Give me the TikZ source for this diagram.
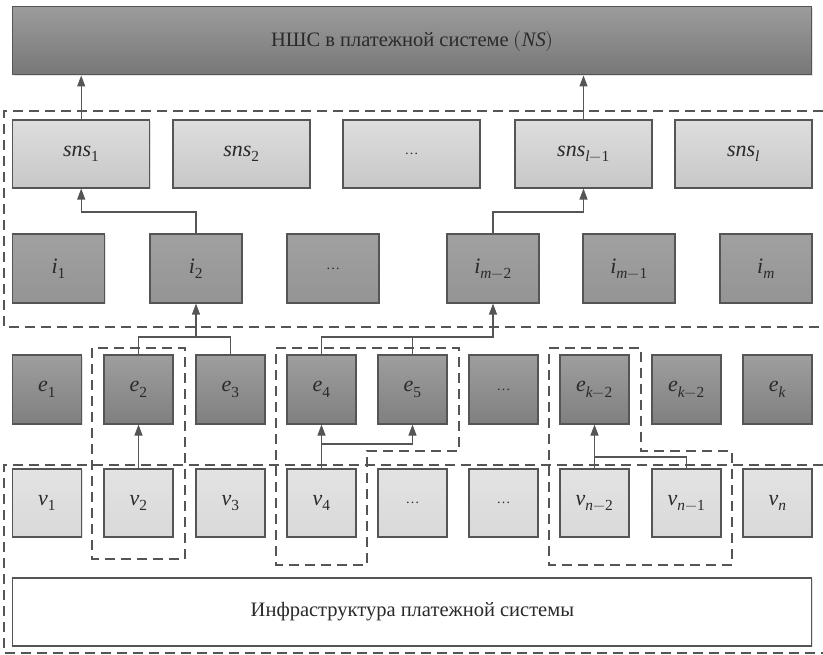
\documentclass[tikz,border=0pt]{standalone}
\usepackage{unicode-math}
\setmainfont{Liberation Serif}
\setmathfont{Latin Modern Math}
\setmathfont{Liberation Serif Italic}[range={it/{Latin,latin}}]
\setmathfont{Liberation Serif}[range={up/num}]
\usetikzlibrary{arrows.meta,shadows,calc}

\definecolor{edge}{HTML}{555555}
\definecolor{ink}{HTML}{2a2a2a}

\tikzset{
  x=1pt, y=1pt,
  box/.style={draw=edge, line width=1.1pt, rectangle, inner sep=0pt,
    text=ink, font=\fontsize{22}{26}\selectfont,
    drop shadow={shadow xshift=1.2pt, shadow yshift=-1.2pt, fill=black!18, opacity=0.6}},
  headbox/.style={box, minimum width=799pt, minimum height=68pt,
    font=\fontsize{20.5}{24}\selectfont,
    top color=gray!78!white, bottom color=gray!88!black!95},
  snsbox/.style={box, minimum width=137pt, minimum height=68pt,
    top color=black!13, bottom color=black!22},
  ibox/.style={box, minimum width=92pt, minimum height=69pt,
    top color=black!37, bottom color=black!42},
  ebox/.style={box, minimum width=69pt, minimum height=69pt,
    top color=black!38, bottom color=black!50},
  vbox/.style={box, minimum width=69pt, minimum height=68pt,
    top color=black!11, bottom color=black!15},
  infrabox/.style={box, fill=white, minimum width=799pt, minimum height=68pt,
    font=\fontsize{20.5}{24}\selectfont},
  arr/.style={draw=edge, line width=1.1pt, -{Triangle[length=11pt,width=8pt]}},
  link/.style={draw=edge, line width=1.1pt},
  group/.style={draw=edge, line width=2.1pt, dash pattern=on 10pt off 6pt}
}

\newcommand{\dotsmall}{{\fontsize{14}{16}\selectfont\ldots}}

\begin{document}
\begin{tikzpicture}
\useasboundingbox (0,0) rectangle (823,-655);

% top level
\node[headbox] (ns) at (412.4,-40.9) {НШС в платежной системе $(NS)$};

% sns row
\node[snsbox] (sns1) at (81.2,-154) {$sns_1$};
\node[snsbox] (sns2) at (241.5,-154) {$sns_2$};
\node[snsbox] (sns3) at (411.5,-154) {\dotsmall};
\node[snsbox] (snsl1) at (583.5,-154) {$sns_{l-1}$};
\node[snsbox] (snsl) at (743.5,-154) {$sns_l$};

% i row
\node[ibox] (i1) at (58.7,-268.5) {$i_1$};
\node[ibox] (i2) at (196,-268.5) {$i_2$};
\node[ibox] (i3) at (333,-268.5) {\dotsmall};
\node[ibox] (im2) at (493,-268.5) {$i_{m-2}$};
\node[ibox] (im1) at (629,-268.5) {$i_{m-1}$};
\node[ibox] (im) at (766,-268.5) {$i_m$};

% e row
\node[ebox] (e1) at (47.2,-389.5) {$e_1$};
\node[ebox] (e2) at (138.5,-389.5) {$e_2$};
\node[ebox] (e3) at (230.5,-389.5) {$e_3$};
\node[ebox] (e4) at (321.5,-389.5) {$e_4$};
\node[ebox] (e5) at (412.5,-389.5) {$e_5$};
\node[ebox] (e6) at (503.5,-389.5) {\dotsmall};
\node[ebox] (ek2) at (594.5,-389.5) {$e_{k-2}$};
\node[ebox] (ek1) at (686.5,-389.5) {$e_{k-2}$};
\node[ebox] (ek) at (777.5,-389.5) {$e_k$};

% v row
\node[vbox] (v1) at (47.2,-503) {$v_1$};
\node[vbox] (v2) at (138.5,-503) {$v_2$};
\node[vbox] (v3) at (230.5,-503) {$v_3$};
\node[vbox] (v4) at (321.5,-503) {$v_4$};
\node[vbox] (v5) at (412.5,-503) {\dotsmall};
\node[vbox] (v6) at (503.5,-503) {\dotsmall};
\node[vbox] (vn2) at (594.5,-503) {$v_{n-2}$};
\node[vbox] (vn1) at (686.5,-503) {$v_{n-1}$};
\node[vbox] (vn) at (777.5,-503) {$v_n$};

% infrastructure
\node[infrabox] (infra) at (412.4,-612) {Инфраструктура платежной системы};

% routing levels
\coordinate (h1) at (0,-212);
\coordinate (h2) at (0,-337);
\coordinate (h3) at (0,-444);
\coordinate (h4) at (0,-457);

% connectors
\draw[arr] (sns1.north) -- (sns1.north |- ns.south);
\draw[arr] (snsl1.north) -- (snsl1.north |- ns.south);

\draw[arr] (i2.north) -- (i2.north |- h1) -| (sns1.south);
\draw[arr] (im2.north) -- (im2.north |- h1) -| (snsl1.south);

\draw[link] (e2.north) -- (e2.north |- h2) -| (e3.north);
\draw[arr] (i2.south |- h2) -- (i2.south);
\draw[arr] (e4.north) -- (e4.north |- h2) -| (im2.south);
\draw[link] (e5.north) -- (e5.north |- h2);

\draw[arr] (v2.north) -- (e2.south);
\draw[arr] (v4.north) -- (e4.south);
\draw[arr] (v4.north |- h3) -| (e5.south);
\draw[arr] (vn2.north) -- (ek2.south);
\draw[link] (vn1.north) -- (vn1.north |- h4) -- (vn2.north |- h4);

% groupings
\draw[group] (823,-111) -- (4,-111) -- (4,-327) -- (823,-327);
\draw[group] (823,-465) -- (4,-465) -- (4,-653) -- (823,-653);
\draw[group] (92,-348) rectangle (185,-559);
\draw[group] (276,-348) -- (459,-348) -- (459,-451) -- (367,-451) -- (367,-565) -- (276,-565) -- cycle;
\draw[group] (549,-348) -- (641,-348) -- (641,-451) -- (732,-451) -- (732,-565) -- (549,-565) -- cycle;
\end{tikzpicture}
\end{document}
